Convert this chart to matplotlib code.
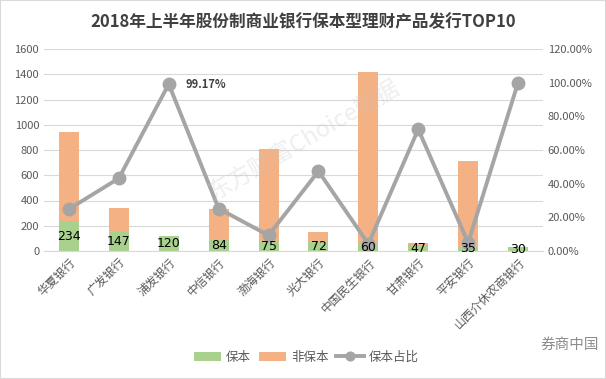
import matplotlib
matplotlib.use('Agg')
import matplotlib.pyplot as plt
from matplotlib.patches import Rectangle

plt.rcParams['font.family'] = ['Noto Sans CJK SC', 'DejaVu Sans']

# data
banks = ['华夏银行', '广发银行', '浦发银行', '中信银行', '渤海银行',
         '光大银行', '中国民生银行', '甘肃银行', '平安银行', '山西介休农商银行']
guaranteed = [234, 147, 120, 84, 75, 72, 60, 47, 35, 30]
non_guaranteed = [706, 193, 1, 249, 733, 80, 1355, 18, 678, 0]
ratio = [0.249, 0.432, 0.9917, 0.252, 0.093, 0.474, 0.042, 0.723, 0.049, 1.0]

green = '#A9D18E'
orange = '#F4B183'
grey = '#A5A5A5'
tick_color = '#595959'

fig = plt.figure(figsize=(6.06, 3.79), dpi=100)
ax = fig.add_axes([44 / 606, 1 - 251 / 379, (543 - 44) / 606, (251 - 49) / 379])
ax2 = ax.twinx()

x = list(range(len(banks)))
ax.bar(x, guaranteed, width=0.4, color=green, label='保本', zorder=2)
ax.bar(x, non_guaranteed, width=0.4, bottom=guaranteed, color=orange,
       label='非保本', zorder=2)
ax2.plot(x, ratio, color=grey, lw=2.8, marker='o', ms=9, label='保本占比', zorder=3)

# guaranteed counts, drawn above the line
for xi, v in zip(x, guaranteed):
    ax2.text(xi, v / 2 * 1.2 / 1600, str(v), ha='center', va='center', fontsize=9,
             color='black', zorder=6, family=['DejaVu Sans'])
ax2.annotate('99.17%', (2, ratio[2]), xytext=(12, 0), textcoords='offset points',
             ha='left', va='center', fontsize=8, fontweight='bold', color='#404040')

ax.set_xlim(-0.5, len(banks) - 0.5)
ax.set_ylim(0, 1600)
ax.set_yticks(range(0, 1601, 200))
ax2.set_ylim(0, 1.2)
ax2.set_yticks([i * 0.2 for i in range(7)])
ax2.set_yticklabels(['%.2f%%' % (i * 20) for i in range(7)])

ax.grid(axis='y', color='#D9D9D9', lw=0.8, zorder=0)
ax.set_axisbelow(True)
for a in (ax, ax2):
    for s in a.spines.values():
        s.set_visible(False)
    a.tick_params(length=0, labelsize=8, labelcolor=tick_color)
ax.spines['bottom'].set_visible(True)
ax.spines['bottom'].set_color('#D9D9D9')

ax.set_xticks(x)
ax.set_xticklabels(banks, rotation=45, ha='right', rotation_mode='anchor',
                   fontsize=8.5, color=tick_color)

fig.text(0.5, 1 - 22 / 379, '2018年上半年股份制商业银行保本型理财产品发行TOP10',
         ha='center', va='center', fontsize=12, fontweight='bold', color='#404040')

# watermark
ax2.text(0.52, 0.55, '东方财富Choice数据', transform=ax.transAxes, rotation=30,
         ha='center', va='center', fontsize=17, color='#C8C8C8', alpha=0.3, zorder=7)
fig.text(540 / 606, 1 - 345 / 379, '券商中国', ha='left', va='center',
         fontsize=10.5, color='#8C8C8C')

h1, l1 = ax.get_legend_handles_labels()
h2, l2 = ax2.get_legend_handles_labels()
leg = fig.legend(h1 + h2, l1 + l2, loc='center', bbox_to_anchor=(0.505, 1 - 357 / 379),
                 ncol=3, frameon=False, fontsize=9, handlelength=2.2, handletextpad=0.4,
                 columnspacing=0.6, labelcolor=tick_color, markerscale=0.7)

fig.add_artist(Rectangle((0, 0), 1, 1, transform=fig.transFigure, fill=False,
                         edgecolor='#D9D9D9', lw=1.5))

fig.savefig('out.png', dpi=100)
